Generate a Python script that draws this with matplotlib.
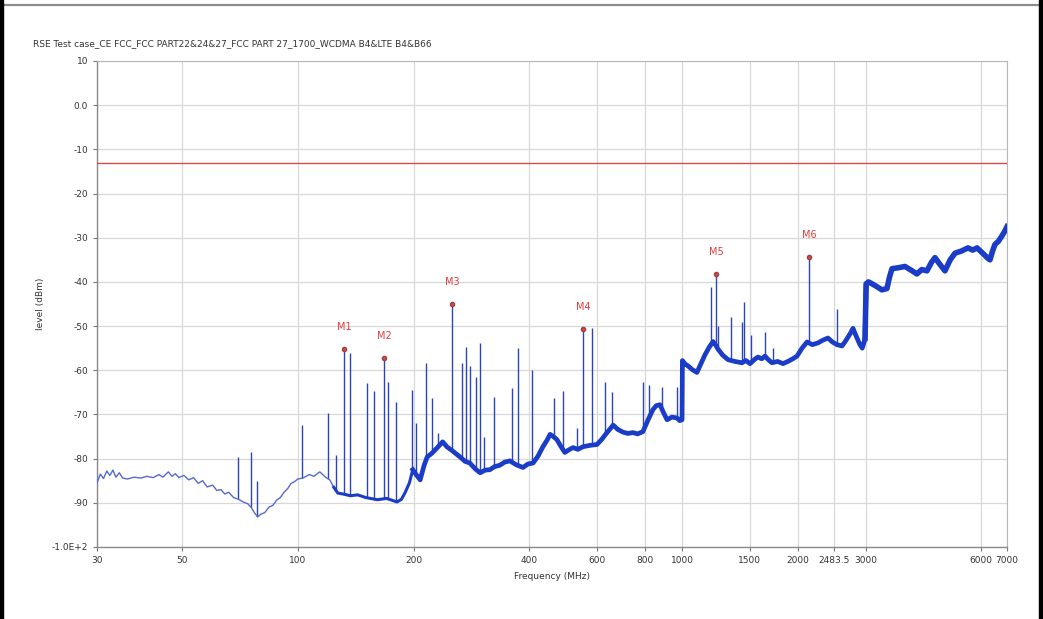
import numpy as np
import matplotlib
matplotlib.use("Agg")
import matplotlib.pyplot as plt
from matplotlib.patches import Rectangle
from matplotlib.lines import Line2D

title = "RSE Test case_CE FCC_FCC PART22&24&27_FCC PART 27_1700_WCDMA B4&LTE B4&B66"

# noise floor trace (MHz, dBm)
floor_f = [30, 30.6, 31.2, 31.8, 32.4, 33, 33.6, 34.3, 35, 36, 37.5, 39, 40.5,
           42, 43.5, 44.5, 46, 47, 48, 49, 50.5, 52, 53.5, 55, 56.5, 58, 60,
           61.5, 63, 64.5, 66, 68, 70, 72, 74, 75.5, 77, 78.5, 80, 82, 84, 86,
           88, 90, 92, 94, 96, 98, 100, 103, 107, 110, 114, 118, 121, 124, 127,
           131, 137, 143, 150, 161, 170, 181, 186, 190, 195, 199, 203, 208, 213,
           217, 223, 230, 238, 244, 252, 264, 272, 280, 290, 298, 307, 316, 325,
           335, 345, 356, 370, 385, 397, 409, 421, 434, 445, 453, 462, 472, 483,
           495, 507, 520, 535, 552, 575, 600, 618, 637, 650, 661, 680, 701, 722,
           744, 765, 790, 815, 839, 856, 875, 893, 913, 940, 969, 985, 999,
           1001, 1018, 1035, 1060, 1092, 1120, 1146, 1175, 1203, 1220, 1239,
           1275, 1316, 1370, 1431, 1465, 1501, 1540, 1574, 1610, 1642, 1675,
           1712, 1770, 1829, 1884, 1940, 1989, 2050, 2112, 2180, 2256, 2320,
           2394, 2460, 2527, 2605, 2650, 2700, 2740, 2782, 2820, 2860, 2900,
           2940, 2970, 2990, 3010, 3050, 3100, 3200, 3309, 3410, 3460, 3514,
           3650, 3798, 3950, 4081, 4200, 4333, 4450, 4547, 4680, 4827, 4980,
           5127, 5330, 5540, 5700, 5850, 6000, 6135, 6230, 6321, 6420, 6513,
           6650, 6800, 6900, 7000]
floor_db = [-85.5, -83.5, -84.5, -82.8, -83.8, -82.6, -84.2, -83.2, -84.4, -84.6,
            -84.2, -84.4, -84.0, -84.3, -83.6, -84.2, -83.0, -84.0, -83.4, -84.3,
            -83.8, -84.8, -84.3, -85.6, -85.0, -86.4, -86.0, -87.2, -87.0, -88.0,
            -87.6, -88.8, -89.2, -89.8, -90.2, -91.0, -92.2, -93.2, -92.6, -92.2,
            -91.0, -90.6, -89.4, -88.8, -87.6, -86.8, -85.6, -85.2, -84.6, -84.4,
            -83.6, -84.0, -83.0, -84.2, -84.8, -86.5, -87.8,
            -88.0, -88.4, -88.2, -88.8, -89.3, -89.0, -89.8, -89.2, -87.7, -85.5,
            -82.5, -83.6, -84.8, -81.5, -79.6, -78.8, -77.6, -76.2, -77.3, -78.2,
            -79.6, -80.6, -81.0, -82.4, -83.2, -82.6, -82.5, -81.8, -81.5, -80.8,
            -80.5, -81.4, -82.0, -81.2, -81.0, -79.5, -77.3, -75.8, -74.5, -75.0,
            -75.7, -77.2, -78.6, -78.0, -77.5, -77.9, -77.3, -77.0, -76.8, -75.6,
            -74.1, -73.2, -72.4, -73.4, -74.0, -74.3, -74.1, -74.4, -73.9, -71.2,
            -68.9, -68.0, -67.8, -69.5, -71.2, -70.6, -70.8, -71.4, -71.2,
            -57.8, -58.6, -59.0, -59.8, -60.5, -58.4, -56.5, -54.8, -53.5, -54.2,
            -55.2, -56.6, -57.6, -58.0, -58.3, -57.8, -58.5, -57.6, -57.0, -57.4,
            -56.8, -57.6, -58.3, -58.0, -58.5, -58.0, -57.4, -56.8, -55.0, -53.6,
            -54.2, -53.8, -53.2, -52.7, -53.6, -54.2, -54.5, -53.6, -52.5, -51.6,
            -50.5, -51.8, -53.0, -54.2, -55.0, -53.8, -52.8, -40.5, -40.0, -40.3,
            -41.0, -41.8, -41.5, -39.0, -37.0, -36.8, -36.5, -37.4, -38.2, -37.2,
            -37.5, -35.6, -34.5, -36.0, -37.5, -35.0, -33.5, -33.0, -32.3, -32.8,
            -32.3, -33.2, -34.0, -34.6, -35.0, -33.0, -31.5, -30.8, -29.5, -28.6,
            -27.5]

# narrow emissions (MHz, peak dBm)
spike_f = [69.8, 75.5, 78.2, 102.4, 119.8, 125.6, 131.8, 136.6, 151.3, 157.7,
           167.4, 171.5, 179.9, 198.1, 203, 215.4, 223.2, 231.5, 251.7, 267.3,
           273.8, 280.4, 290.6, 297.7, 304.9, 323.7, 360.6, 373.8, 406.5, 463.8,
           489.4, 532.2, 551.7, 582.2, 629.7, 656.4, 790, 819, 886, 969, 1188,
           1224, 1239, 1339, 1431, 1448, 1510, 1642, 1720, 2137, 2527]
spike_db = [-79.6, -78.5, -85.0, -72.4, -69.6, -79.1, -55.2, -56.1, -62.9, -64.7,
            -57.2, -62.6, -67.1, -64.4, -72.0, -58.3, -66.2, -74.2, -45.0, -58.3,
            -54.7, -59.0, -61.5, -53.8, -75.1, -66.0, -64.0, -54.9, -59.9, -66.2,
            -64.7, -73.0, -50.6, -50.5, -62.6, -64.9, -62.6, -63.3, -63.8, -63.8,
            -41.1, -38.2, -50.0, -47.9, -49.0, -44.5, -52.0, -51.3, -55.0, -34.3,
            -46.1]

marker_names = ["M1", "M2", "M3", "M4", "M5", "M6"]
marker_f = [131.8, 167.4, 251.7, 551.7, 1224, 2137]
marker_db = [-55.2, -57.2, -45.0, -50.6, -38.2, -34.3]

limit_db = -13.0

xticks = [30, 50, 100, 200, 400, 600, 800, 1000, 1500, 2000, 2483.5, 3000, 6000, 7000]
xlabels = ["30", "50", "100", "200", "400", "600", "800", "1000", "1500", "2000",
           "2483.5", "3000", "6000", "7000"]
yticks = [10, 0, -10, -20, -30, -40, -50, -60, -70, -80, -90, -100]
ylabels = ["10", "0.0", "-10", "-20", "-30", "-40", "-50", "-60", "-70", "-80",
           "-90", "-1.0E+2"]

W, H = 1043, 619
fig = plt.figure(figsize=(W / 100, H / 100), dpi=100)
ax = fig.add_axes([97 / W, 1 - 547 / H, 910 / W, 486 / H])

ax.set_xscale("log")
ax.set_xlim(30, 7000)
ax.set_ylim(-100, 10)

f = np.array(floor_f, dtype=float)
db = np.array(floor_db)
blue = "#1b3cc6"

# spikes drawn from the floor up to the peak
base = np.interp(spike_f, f, db)
ax.vlines(spike_f, base, spike_db, color="#2c44b8", lw=1.0, zorder=3)

low = f <= 127
mid = (f >= 124) & (f <= 199)
high = (f >= 199) & (f <= 3010)
top = f >= 2990
ax.plot(f[low], db[low], color="#5569d0", lw=1.0, zorder=4)
ax.plot(f[mid], db[mid], color=blue, lw=2.2, zorder=4)
ax.plot(f[high], db[high], color=blue, lw=3.4, zorder=4)
ax.plot(f[top], db[top], color=blue, lw=4.0, zorder=4)

ax.axhline(limit_db, color="#e04848", lw=1.0, zorder=5)

ax.plot(marker_f, marker_db, "o", ms=3, color="#d84a4a", mec="#a04040", zorder=6)
for name, mf, md in zip(marker_names, marker_f, marker_db):
    ax.annotate(name, (mf, md), xytext=(0, 16), textcoords="offset points",
                ha="center", va="center", color="#e03c3c", fontsize=7)

ax.set_xticks(xticks)
ax.set_xticklabels(xlabels)
ax.xaxis.set_minor_locator(matplotlib.ticker.NullLocator())
ax.set_yticks(yticks)
ax.set_yticklabels(ylabels)
ax.tick_params(axis="both", labelsize=6.5, labelcolor="#333333", color="#777777",
               length=3, width=0.8)
ax.grid(True, color="#d8d8d8", lw=0.9)
ax.set_axisbelow(True)
for side in ["top", "right"]:
    ax.spines[side].set_color("#b8b8b8")
for side in ["left", "bottom"]:
    ax.spines[side].set_color("#8a8a8a")
    ax.spines[side].set_linewidth(1.0)

ax.set_xlabel("Frequency (MHz)", fontsize=6.5, color="#333333", labelpad=5)
ax.set_ylabel("level (dBm)", fontsize=6.5, color="#333333", labelpad=5)

fig.text(33 / W, 1 - 44 / H, title, fontsize=6.5, color="#333333", va="center")

# window frame around the screenshot
fig.patches.append(Rectangle((0, 0), 3 / W, 1, transform=fig.transFigure,
                             color="black", zorder=10))
fig.patches.append(Rectangle((1039 / W, 0), 4 / W, 1, transform=fig.transFigure,
                             color="black", zorder=10))
fig.lines.append(Line2D([3 / W, 1039 / W], [1 - 5 / H, 1 - 5 / H],
                        transform=fig.transFigure, color="#8c8c8c", lw=1.6))

fig.savefig("out.png", dpi=100)
